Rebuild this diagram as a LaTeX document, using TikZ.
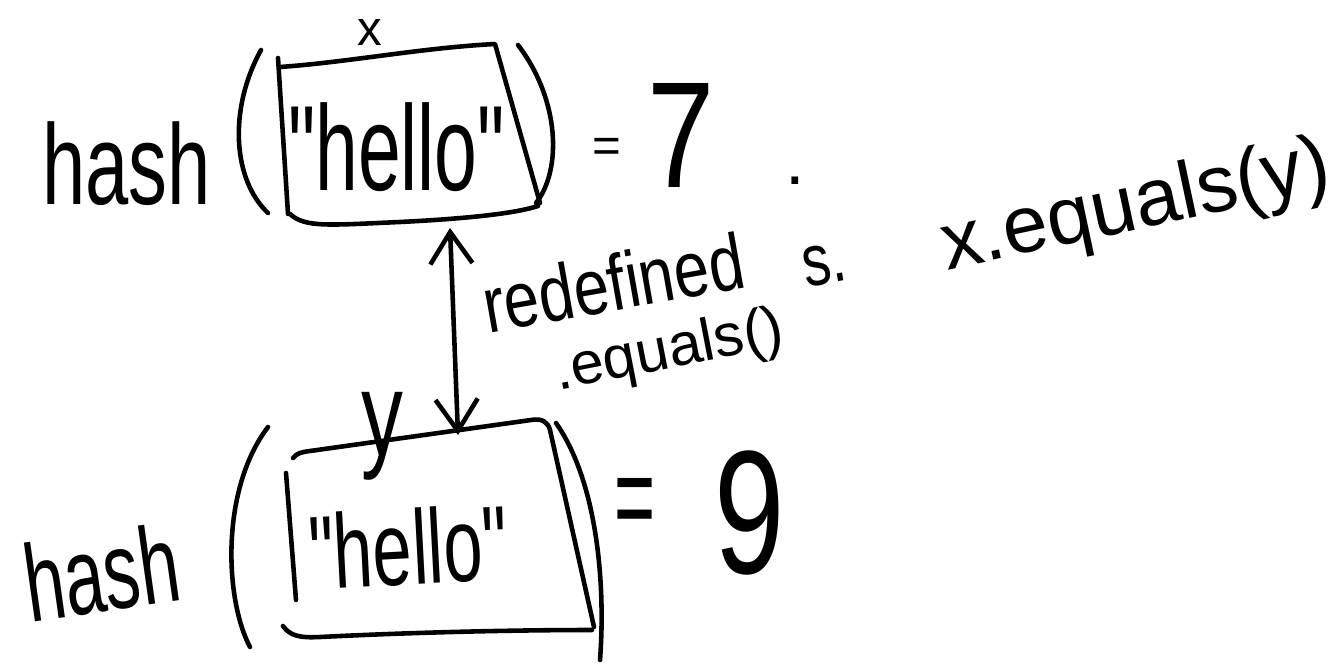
\documentclass[tikz,border=0pt]{standalone}
\usepackage{graphicx}
\usepackage{fontspec}
\newfontfamily\handfont{Liberation Sans}
\usetikzlibrary{arrows.meta}
\newcommand\handtxt[4]{\handfont\fontsize{#1}{#1}\selectfont\scalebox{#2}[#3]{#4}}
\tikzset{
  ink/.style={line width=1.3pt, line cap=round, line join=round},
  hand/.style={inner sep=0pt, outer sep=0pt},
  barb/.style={{Straight Barb[length=9pt,width=12pt]}-{Straight Barb[length=9pt,width=12pt]}}
}
\begin{document}
\begin{tikzpicture}[x=0.01cm, y=-0.01cm]
\path[use as bounding box] (0,0) rectangle (1337,664);

% ---------- top line ----------
\node[hand, anchor=base west] (hasha) at (42,205) {\handtxt{26}{0.85}{1.25}{hash}};
\node[hand, anchor=base west] (boxa) at (288,190) {\handtxt{23}{0.95}{1.5}{"hello"}};
\node[hand] (xa) at (370,32) {\handtxt{14}{1}{1}{x}};
\node[hand] (eqa) at (607,150) {\handtxt{14}{1}{1}{=}};
\node[hand, anchor=base west] (sevena) at (647,188) {\handtxt{43}{0.8}{1}{7}};
\node[hand] (dot) at (795,181) {\handtxt{20}{1}{1}{.}};

% top box outline
\draw[ink] (278,58) -- (288,214);
\draw[ink] (280,67) .. controls (350,62) and (420,48) .. (495,44) -- (540,203);
\draw[ink] (290,214) .. controls (305,228) and (330,225) .. (400,222)
           .. controls (480,218) and (520,212) .. (538,206);
% top parentheses
\draw[ink] (261,50) .. controls (228,110) and (233,180) .. (268,213);
\draw[ink] (518,45) .. controls (560,100) and (562,170) .. (536,203);

% ---------- middle ----------
\coordinate (atop) at (450,228);
\coordinate (abot) at (458,435);
\draw[ink, barb] (atop) -- (abot);
\node[hand, anchor=base west, rotate=10] (redef) at (488,333) {\handtxt{18}{1}{1.25}{redefined}};
\node[hand, anchor=base west, rotate=11] (eqcall) at (558,390) {\handtxt{17}{1}{1}{.equals()}};
\node[hand, anchor=base west, rotate=10] (sdot) at (806,287) {\handtxt{16}{1}{1.3}{s.}};
\node[hand, anchor=base west, rotate=12] (xeq) at (947,270) {\handtxt{23}{1}{1}{x.equals(y)}};

% ---------- bottom line ----------
\node[hand, anchor=base west, rotate=8] (hashb) at (30,622) {\handtxt{24}{0.85}{1.3}{hash}};
\node[hand, anchor=base west, rotate=3] (boxb) at (311,590) {\handtxt{20}{1}{1.5}{"hello"}};
\node[hand, anchor=base] (yb) at (382,455) {\handtxt{34}{0.7}{1}{y}};
\node[hand] (eqb) at (635,509) {\handtxt{20}{1}{1.8}{=}};
\node[hand, anchor=base west] (nineb) at (714,573) {\handtxt{50}{0.72}{1}{9}};

% bottom box outline
\draw[ink] (286,473) -- (296,600);
\draw[ink] (293,458) .. controls (297,453) and (302,452) .. (310,451) -- (531,420)
           .. controls (542,418) and (548,422) .. (550,430) -- (594,627);
\draw[ink] (283,626) .. controls (290,636) and (300,638) .. (320,637)
           .. controls (420,632) and (520,630) .. (592,630);
% bottom parentheses
\draw[ink] (268,427) .. controls (220,490) and (225,600) .. (250,647);
\draw[ink] (556,423) .. controls (596,480) and (606,580) .. (600,660);
\end{tikzpicture}
\end{document}
